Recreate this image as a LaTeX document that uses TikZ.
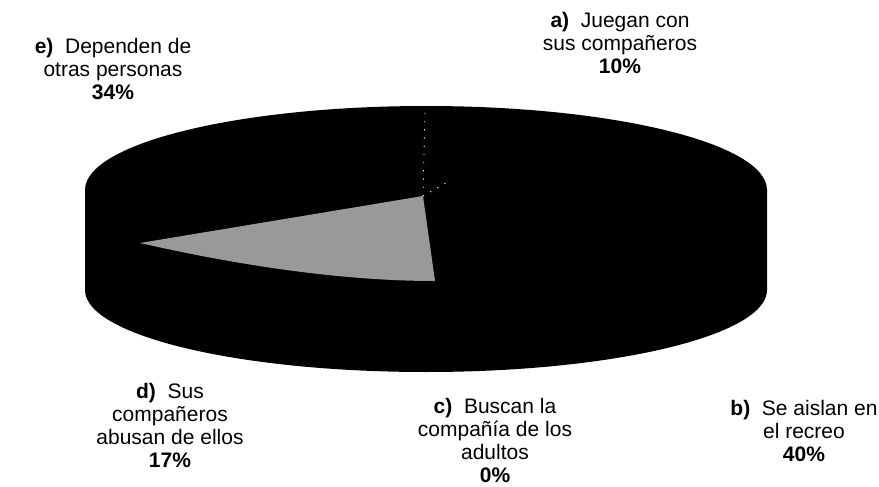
\documentclass[tikz,border=0pt]{standalone}
\usepackage{fontspec}
\setmainfont{Liberation Sans}
\begin{document}
\begin{tikzpicture}[x=1pt,y=-1pt,
  lbl/.style={align=center,inner sep=0pt,font=\fontsize{21}{23}\selectfont},
  slicegray/.style={fill=black!40,draw=none},
  seam/.style={draw=white,line width=0.8pt,dash pattern=on 1.2pt off 7pt}]
\useasboundingbox (0,0) rectangle (879,487);
% cylinder side
\fill[black] (85,190) -- (85,290) arc[start angle=180,end angle=360,x radius=341,y radius=-82] -- (767,190) -- cycle;
% top surface
\fill[black] (426,190) ellipse[x radius=341,y radius=84];
% slice d
\coordinate (apex) at (423,196);
\coordinate (tip) at (140,243);
\coordinate (lowc) at (435,281);
\fill[slicegray] (apex) -- (tip) .. controls (250,268) and (350,281) .. (lowc) -- cycle;
% faint seams
\coordinate (seamtop) at (425,110);
\coordinate (seamend) at (446,183);
\draw[seam] (apex) -- (seamtop);
\draw[seam] (apex) -- (seamend);
% labels
\node[lbl] (la) at (620,43) {\textbf{a)} \ Juegan con\\sus compañeros\\\textbf{10\%}};
\node[lbl] (le) at (113,69) {\textbf{e)} \ Dependen de\\otras personas\\\textbf{34\%}};
\node[lbl] (ld) at (170,425) {\textbf{d)} \ Sus\\compañeros\\abusan de ellos\\\textbf{17\%}};
\node[lbl] (lc) at (495,440) {\textbf{c)} \ Buscan la\\compañía de los\\adultos\\\textbf{0\%}};
\node[lbl] (lb) at (804,431) {\textbf{b)} \ Se aislan en\\el recreo\\\textbf{40\%}};
\end{tikzpicture}
\end{document}
